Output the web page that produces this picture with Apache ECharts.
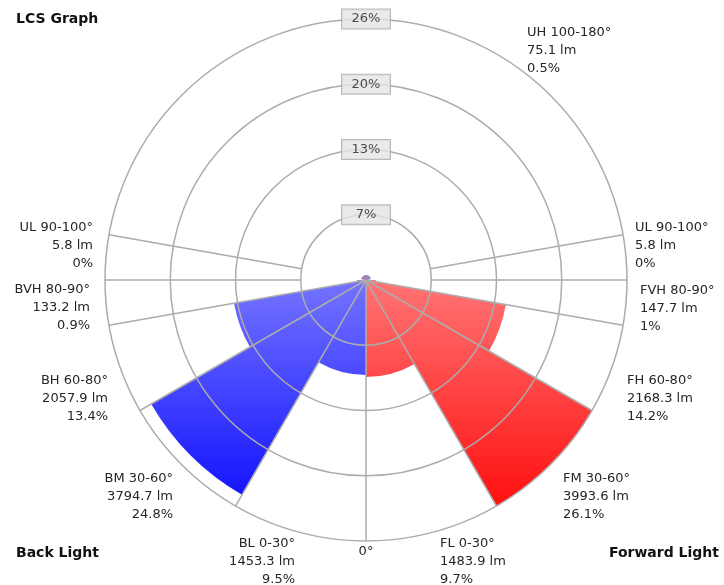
<!DOCTYPE html>
<html><head><meta charset="utf-8">
<script src="https://cdn.jsdelivr.net/npm/echarts@6/dist/echarts.min.js"></script>
<style>html,body{margin:0;padding:0;background:#fff}#c{width:724px;height:585px}</style>
</head><body><div id="c"></div>
<script>
// ---- data ----
const forwardNames = ['FL', 'FM', 'FH', 'FVH', 'UL', 'UH'];
const forwardRanges = [[0, 30], [30, 60], [60, 80], [80, 90], [90, 100], [100, 180]];
const forwardLumens = ['1483.9', '3993.6', '2168.3', '147.7', '5.8', '75.1'];
const forwardPercent = [9.7, 26.1, 14.2, 1, 0, 0.5];
const backNames = ['BL', 'BM', 'BH', 'BVH', 'UL'];
const backRanges = [[0, 30], [30, 60], [60, 80], [80, 90], [90, 100]];
const backLumens = ['1453.3', '3794.7', '2057.9', '133.2', '5.8'];
const backPercent = [9.5, 24.8, 13.4, 0.9, 0];
const ringLabels = ['7%', '13%', '20%', '26%'];
const spokesFromCenter = [0, 30, 60, 80];
const spokesFromRing = [90, 100];
const maxPercent = 26.1;

// ---- layout ----
const CX = 366, CY = 280, R = 261;
const FONT = '13px "DejaVu Sans"';
const TXT = '#262626';
const GRID = '#acacac';

// angle conversion: nadir angle -> polar angle value (0 = top, clockwise)
const fwdV = a => 180 - a;
const backV = a => 180 + a;

const ringStep = maxPercent / ringLabels.length;

const redData = [], blueData = [], upData = [];
forwardNames.forEach((n, i) => {
  const [a0, a1] = forwardRanges[i];
  if (n === 'UH') {
    upData.push([forwardPercent[i], backV(a0), backV(a0) + 2 * (a1 - a0)]);
  } else {
    redData.push([forwardPercent[i], fwdV(a1), fwdV(a0)]);
  }
});
backNames.forEach((n, i) => {
  const [a0, a1] = backRanges[i];
  blueData.push([backPercent[i], backV(a0), backV(a1)]);
});

const spokeData = [];
spokesFromCenter.forEach(a => { spokeData.push([0, fwdV(a)]); if (a) spokeData.push([0, backV(a)]); });
spokesFromRing.forEach(a => { spokeData.push([ringStep, fwdV(a)]); spokeData.push([ringStep, backV(a)]); });

const ringData = ringLabels.map((l, i) => [ringStep * (i + 1), 0]);

function grad(c0, c1) {
  return new echarts.graphic.LinearGradient(0, CY, 0, CY + R, [
    { offset: 0, color: c0 }, { offset: 1, color: c1 }
  ], true);
}
const redFill = grad('#ff7474', '#ff0000');
const blueFill = grad('#7474ff', '#0000ff');

function sectorRenderer(fill) {
  return function (params, api) {
    const cs = params.coordSys;
    const pct = api.value(0), v0 = api.value(1), v1 = api.value(2);
    if (!pct) return null;
    const p0 = api.coord([pct, v0]);
    const p1 = api.coord([pct, v1]);
    const r = Math.hypot(p0[0] - cs.cx, p0[1] - cs.cy);
    let s = Math.atan2(p0[1] - cs.cy, p0[0] - cs.cx);
    let e = Math.atan2(p1[1] - cs.cy, p1[0] - cs.cx);
    while (e <= s) e += 2 * Math.PI;
    return {
      type: 'sector',
      shape: { cx: cs.cx, cy: cs.cy, r0: 0, r: r, startAngle: s, endAngle: e, clockwise: true },
      style: { fill: fill, stroke: null }
    };
  };
}

function spokeRenderer(params, api) {
  const p0 = api.coord([api.value(0), api.value(1)]);
  const p1 = api.coord([maxPercent, api.value(1)]);
  return {
    type: 'line',
    shape: { x1: p0[0], y1: p0[1], x2: p1[0], y2: p1[1] },
    style: { stroke: GRID, lineWidth: 1.5 }
  };
}

function ringRenderer(params, api) {
  const cs = params.coordSys;
  const p = api.coord([api.value(0), api.value(1)]);
  const r = Math.hypot(p[0] - cs.cx, p[1] - cs.cy);
  return {
    type: 'circle',
    shape: { cx: cs.cx, cy: cs.cy, r: r },
    style: { fill: null, stroke: GRID, lineWidth: 1.5 }
  };
}

function labelText(name, range, lm, pct) {
  return name + ' ' + range[0] + '-' + range[1] + '°\n' + lm + ' lm\n' + pct + '%';
}

// label anchor positions (text annotations)
const fwdLabelPos = { FL: [440, 562], FM: [563, 497], FH: [627, 399], FVH: [640, 309], UL: [635, 246], UH: [527, 51] };
const backLabelPos = { BL: [295, 562], BM: [173, 497], BH: [108, 399], BVH: [90, 308], UL: [93, 246] };

const graphics = [];
forwardNames.forEach((n, i) => {
  const p = fwdLabelPos[n];
  graphics.push({ type: 'text', x: p[0], y: p[1], z: 20,
    style: { text: labelText(n, forwardRanges[i], forwardLumens[i], forwardPercent[i]), font: FONT, fill: TXT,
      lineHeight: 18, textAlign: 'left', textVerticalAlign: 'middle' } });
});
backNames.forEach((n, i) => {
  const p = backLabelPos[n];
  graphics.push({ type: 'text', x: p[0], y: p[1], z: 20,
    style: { text: labelText(n, backRanges[i], backLumens[i], backPercent[i]), font: FONT, fill: TXT,
      lineHeight: 18, textAlign: 'right', textVerticalAlign: 'middle' } });
});
graphics.push({ type: 'text', x: CX, y: 552, z: 20, style: { text: '0°', font: FONT, fill: TXT, textAlign: 'center', textVerticalAlign: 'middle' } });
const TFONT = 'bold 14px "DejaVu Sans"';
graphics.push({ type: 'text', x: 16, y: 19, z: 20, style: { text: 'LCS Graph', font: TFONT, fill: '#111', textAlign: 'left', textVerticalAlign: 'middle' } });
graphics.push({ type: 'text', x: 16, y: 553, z: 20, style: { text: 'Back Light', font: TFONT, fill: '#111', textAlign: 'left', textVerticalAlign: 'middle' } });
graphics.push({ type: 'text', x: 719, y: 553, z: 20, style: { text: 'Forward Light', font: TFONT, fill: '#111', textAlign: 'right', textVerticalAlign: 'middle' } });

const chart = echarts.init(document.getElementById('c'), null, { renderer: 'canvas' });
chart.setOption({
  backgroundColor: '#ffffff',
  animation: false,
  polar: { center: [CX, CY], radius: R },
  angleAxis: {
    type: 'value', min: 0, max: 360, startAngle: 90, clockwise: true,
    axisLine: { show: false }, axisTick: { show: false }, axisLabel: { show: false }, splitLine: { show: false }
  },
  radiusAxis: {
    type: 'value', min: 0, max: maxPercent, interval: ringStep,
    axisLine: { show: false }, axisTick: { show: false }, axisLabel: { show: false }, splitLine: { show: false }
  },
  series: [
    { type: 'custom', name: 'Forward', coordinateSystem: 'polar', z: 1, renderItem: sectorRenderer(redFill), data: redData, silent: true },
    { type: 'custom', name: 'Back', coordinateSystem: 'polar', z: 1, renderItem: sectorRenderer(blueFill), data: blueData, silent: true },
    { type: 'custom', name: 'Rings', coordinateSystem: 'polar', z: 4, renderItem: ringRenderer, data: ringData, silent: true },
    { type: 'custom', name: 'Spokes', coordinateSystem: 'polar', z: 4, renderItem: spokeRenderer, data: spokeData, silent: true },
    { type: 'custom', name: 'Up', coordinateSystem: 'polar', z: 5, renderItem: sectorRenderer('#9f82b8'), data: upData, silent: true },
    {
      type: 'scatter', coordinateSystem: 'polar', z: 10, symbolSize: 0, silent: true,
      data: ringData,
      label: {
        show: true, position: 'inside', formatter: p => ringLabels[p.dataIndex],
        fontSize: 13, fontFamily: 'DejaVu Sans', color: '#222',
        backgroundColor: '#e5e5e5', borderColor: '#a9a9a9', borderWidth: 1,
        width: 48, height: 19, lineHeight: 19, align: 'center', verticalAlign: 'middle', padding: 0
      }
    }
  ],
  graphic: graphics
});
</script></body></html>
